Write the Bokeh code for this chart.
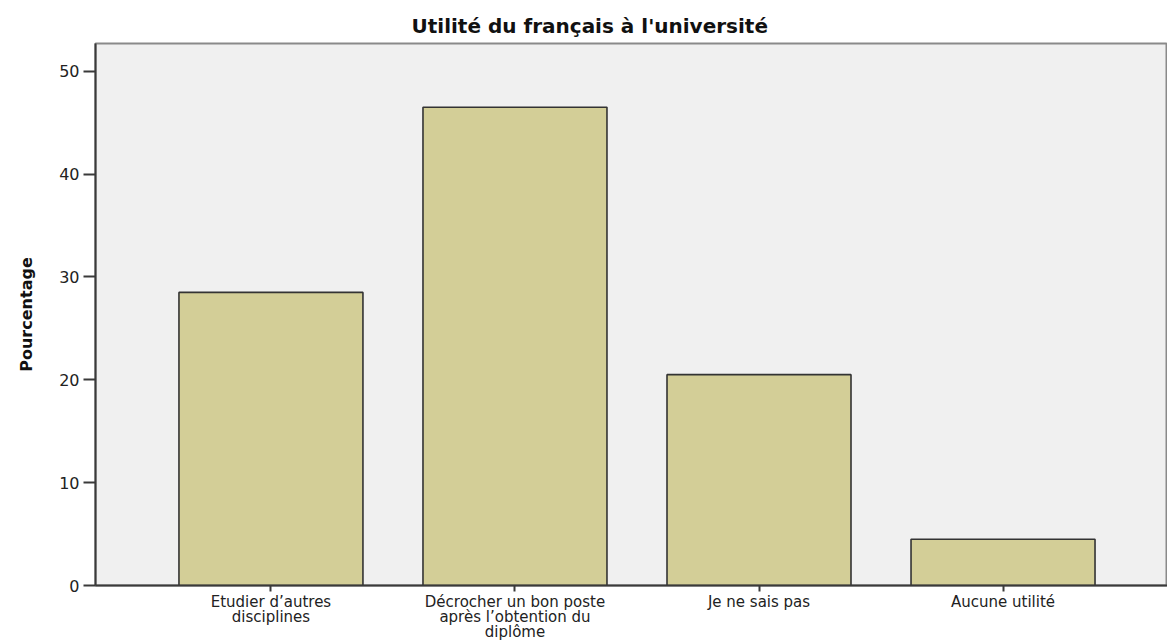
from bokeh.plotting import figure
from bokeh.models import Range1d, FixedTicker, ColumnDataSource
from bokeh.embed import file_html
from bokeh.resources import INLINE

categories = [
    "Etudier d’autres\ndisciplines",
    "Décrocher un bon poste\naprès l’obtention du\ndiplôme",
    "Je ne sais pas",
    "Aucune utilité",
]
percentages = [28.5, 46.5, 20.5, 4.5]
y_ticks = [0, 10, 20, 30, 40, 50]
title_text = "Utilité du français à l'université"
y_label = "Pourcentage"

positions = list(range(1, len(categories) + 1))
source = ColumnDataSource(dict(x=positions, pct=percentages, cat=categories))

p = figure(
    width=1167, height=644,
    x_range=Range1d(0.281, 4.674), y_range=Range1d(0, 52.7),
    output_backend="svg", toolbar_location=None,
    min_border_left=95, min_border_right=0, min_border_top=43, min_border_bottom=58,
    background_fill_color="#f0f0f0", border_fill_color="white",
)

p.title.text = title_text
p.title.align = "left"
p.title.offset = 316
p.title.text_font = "DejaVu Sans"
p.title.text_font_size = "20px"
p.title.text_font_style = "bold"
p.title.text_color = "#111111"
p.title.standoff = 12

p.vbar(x="x", top="pct", width=0.754, source=source,
       fill_color="#d3ce97", line_color="#333333", line_width=1.6)

p.grid.visible = False
p.outline_line_color = "#8a8a8a"
p.outline_line_width = 2

xa = p.xaxis[0]
xa.ticker = FixedTicker(ticks=positions)
xa.major_label_overrides = {pos: cat for pos, cat in zip(positions, categories)}
xa.major_tick_out = 6
xa.major_tick_in = 0
xa.minor_tick_out = 0
xa.minor_tick_in = 0
xa.axis_line_color = "#3a3a3a"
xa.axis_line_width = 2
xa.major_tick_line_color = "#3a3a3a"
xa.major_tick_line_width = 2
xa.major_label_text_font = "DejaVu Sans"
xa.major_label_text_font_size = "15px"
xa.major_label_text_color = "#222222"
xa.major_label_text_line_height = 0.86
xa.major_label_standoff = 1

ya = p.yaxis[0]
ya.ticker = FixedTicker(ticks=y_ticks)
ya.major_tick_out = 12
ya.major_tick_in = 0
ya.minor_tick_out = 0
ya.minor_tick_in = 0
ya.axis_line_color = "#3a3a3a"
ya.axis_line_width = 2
ya.major_tick_line_color = "#3a3a3a"
ya.major_tick_line_width = 2
ya.major_label_text_font = "DejaVu Sans"
ya.major_label_text_font_size = "16px"
ya.major_label_text_color = "#222222"
ya.major_label_standoff = 4
ya.axis_label = y_label
ya.axis_label_text_font = "DejaVu Sans"
ya.axis_label_text_font_size = "16px"
ya.axis_label_text_font_style = "bold"
ya.axis_label_text_color = "#111111"
ya.axis_label_standoff = 20

open("out.html", "w").write(file_html(p, INLINE))
